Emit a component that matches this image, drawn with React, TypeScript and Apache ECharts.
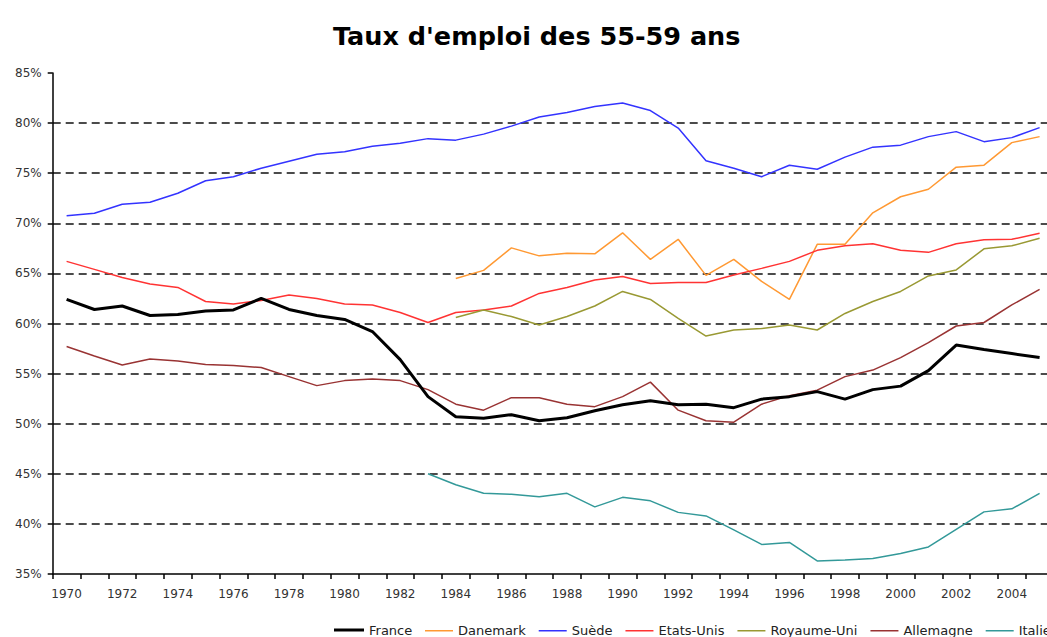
import React, { useEffect, useRef } from "react";
import * as echarts from "echarts";

const years = [
  "1970","1971","1972","1973","1974","1975","1976","1977","1978","1979",
  "1980","1981","1982","1983","1984","1985","1986","1987","1988","1989",
  "1990","1991","1992","1993","1994","1995","1996","1997","1998","1999",
  "2000","2001","2002","2003","2004","2005",
];

const france = [
  62.4, 61.4, 61.75, 60.8, 60.9, 61.25, 61.35, 62.5, 61.4, 60.8,
  60.4, 59.2, 56.4, 52.7, 50.7, 50.55, 50.9, 50.3, 50.6, 51.3,
  51.9, 52.3, 51.9, 51.95, 51.6, 52.45, 52.7, 53.2, 52.45, 53.4,
  53.75, 55.3, 57.85, 57.4, 57.0, 56.6,
];

const danemark = [
  null, null, null, null, null, null, null, null, null, null,
  null, null, null, null, 64.5, 65.3, 67.55, 66.75, 67.0, 66.95,
  69.05, 66.4, 68.4, 64.8, 66.4, 64.2, 62.4, 67.9, 67.9, 71.05,
  72.65, 73.4, 75.6, 75.8, 78.05, 78.65,
];

const suede = [
  70.76, 71.0, 71.9, 72.1, 73.0, 74.25, 74.65, 75.5, 76.2, 76.9,
  77.15, 77.7, 78.0, 78.45, 78.3, 78.9, 79.7, 80.6, 81.05, 81.65,
  82.0, 81.25, 79.5, 76.25, 75.5, 74.65, 75.8, 75.4, 76.6, 77.6,
  77.8, 78.65, 79.15, 78.15, 78.55, 79.55,
];

const etatsUnis = [
  66.2, 65.4, 64.6, 63.95, 63.6, 62.2, 61.95, 62.3, 62.85, 62.5,
  61.95, 61.85, 61.1, 60.1, 61.1, 61.35, 61.75, 63.0, 63.6, 64.35,
  64.7, 64.0, 64.1, 64.1, 64.85, 65.5, 66.2, 67.3, 67.75, 67.95,
  67.3, 67.1, 67.95, 68.35, 68.4, 69.0,
];

const royaumeUni = [
  null, null, null, null, null, null, null, null, null, null,
  null, null, null, null, 60.6, 61.35, 60.7, 59.85, 60.7, 61.75,
  63.2, 62.4, 60.5, 58.75, 59.35, 59.5, 59.85, 59.35, 61.0, 62.2,
  63.2, 64.75, 65.35, 67.45, 67.75, 68.5,
];

const allemagne = [
  57.7, 56.75, 55.85, 56.45, 56.25, 55.9, 55.8, 55.6, 54.7, 53.8,
  54.3, 54.45, 54.3, 53.4, 51.95, 51.35, 52.6, 52.6, 51.95, 51.7,
  52.7, 54.15, 51.35, 50.3, 50.15, 51.95, 52.8, 53.35, 54.7, 55.35,
  56.6, 58.1, 59.75, 60.1, 61.85, 63.4,
];

const italie = [
  null, null, null, null, null, null, null, null, null, null,
  null, null, null, 45.0, 43.9, 43.05, 42.95, 42.7, 43.05, 41.7,
  42.65, 42.3, 41.15, 40.8, 39.4, 37.95, 38.15, 36.3, 36.4, 36.55,
  37.05, 37.7, 39.45, 41.2, 41.5, 43.05,
];

const seriesNames = ["France", "Danemark", "Suède", "Etats-Unis", "Royaume-Uni", "Allemagne", "Italie"];
const seriesData = [france, danemark, suede, etatsUnis, royaumeUni, allemagne, italie];
const seriesColors = ["#000000", "#FF9933", "#3333FF", "#FF3333", "#999933", "#993333", "#339999"];
const seriesWidths = [3, 1.5, 1.5, 1.5, 1.5, 1.5, 1.5];

const FONT = "DejaVu Sans";

export default function App() {
  const ref = useRef<HTMLDivElement>(null);

  useEffect(() => {
    if (!ref.current) return;
    const chart = echarts.init(ref.current, undefined, { renderer: "svg" });
    const legendText = { fontFamily: FONT, fontSize: 13, color: "#222" };
    chart.setOption({
      animation: false,
      backgroundColor: "#ffffff",
      title: {
        text: "Taux d'emploi des 55-59 ans",
        left: 328,
        top: 18,
        textStyle: { fontFamily: FONT, fontSize: 25.5, fontWeight: "bold", color: "#000" },
      },
      legend: [
        {
          left: 334,
          top: 623.5,
          width: 200,
          padding: 0,
          icon: "rect",
          itemWidth: 30,
          itemHeight: 3,
          itemGap: 13,
          textStyle: legendText,
          data: [seriesNames[0]],
        },
        {
          left: 425,
          top: 624.25,
          width: 1200,
          padding: 0,
          icon: "rect",
          itemWidth: 28,
          itemHeight: 1.5,
          itemGap: 13,
          textStyle: legendText,
          data: seriesNames.slice(1),
        },
      ],
      grid: {
        left: 52.7,
        right: -6.5,
        top: 73,
        bottom: 63,
        outerBoundsMode: "none",
        containLabel: false,
      },
      xAxis: {
        type: "category",
        data: years,
        boundaryGap: true,
        axisLine: { show: true, lineStyle: { color: "#000", width: 1.5 } },
        axisTick: { show: true, interval: 0, length: 5, lineStyle: { color: "#000", width: 1.5 } },
        axisLabel: { interval: 1, margin: 14, fontFamily: FONT, fontSize: 12, color: "#333" },
        splitLine: { show: false },
      },
      yAxis: {
        type: "value",
        min: 35,
        max: 85,
        interval: 5,
        axisLine: { show: true, lineStyle: { color: "#000", width: 1.5 } },
        axisTick: { show: true, length: 5, lineStyle: { color: "#000", width: 1.5 } },
        axisLabel: {
          formatter: "{value}%",
          margin: 11,
          fontFamily: FONT,
          fontSize: 12,
          color: "#333",
        },
        splitLine: {
          show: true,
          showMinLine: false,
          showMaxLine: false,
          lineStyle: { color: "#111", width: 1.6, type: [8, 5] },
        },
      },
      series: seriesNames.map((name, i) => ({
        name,
        type: "line",
        data: seriesData[i],
        symbol: "none",
        showSymbol: false,
        connectNulls: false,
        color: seriesColors[i],
        itemStyle: { color: seriesColors[i] },
        lineStyle: { color: seriesColors[i], width: seriesWidths[i] },
        z: i === 0 ? 3 : 2,
      })),
    });
    return () => chart.dispose();
  }, []);

  return (
    <div style={{ position: "fixed", left: 0, top: 0, width: 1047, height: 637, overflow: "hidden", background: "#fff" }}>
      <div ref={ref} style={{ width: 1047, height: 637 }} />
    </div>
  );
}
